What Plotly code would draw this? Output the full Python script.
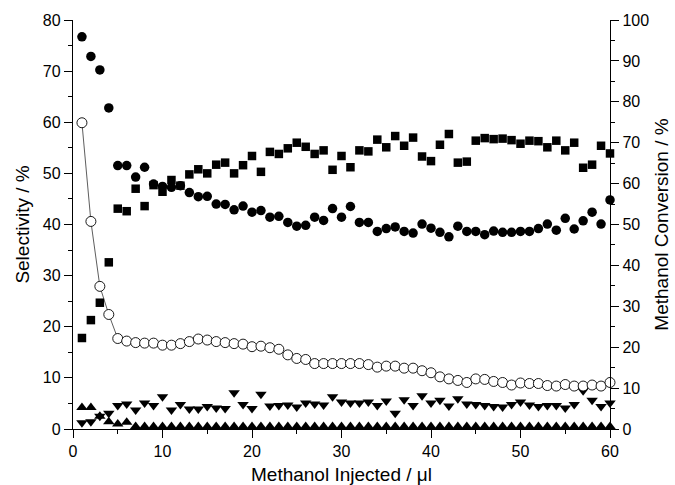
import plotly.graph_objects as go

x = list(range(1, 61))

# Methanol conversion (right axis, %), filled circles
conversion = [95.9, 91.1, 87.8, 78.5, 64.4, 64.4, 61.6, 64.0, 59.9, 59.3,
              59.1, 59.5, 57.8, 56.8, 56.9, 55.0, 54.9, 53.6, 54.5, 53.0,
              53.4, 51.8, 52.0, 50.5, 49.6, 49.8, 51.8, 51.0, 53.9, 51.8,
              54.4, 50.5, 50.5, 48.3, 49.0, 49.4, 48.3, 47.9, 50.1, 49.1,
              48.1, 47.0, 49.6, 48.3, 48.3, 47.5, 48.4, 48.1, 48.1, 48.3,
              48.3, 49.0, 50.1, 48.6, 51.5, 48.9, 50.9, 53.0, 50.1, 56.0]

# Selectivities (left axis, %)
sel_square = [17.8, 21.3, 24.7, 32.6, 43.1, 42.6, 47.0, 43.6, 47.7, 46.4,
              48.7, 47.6, 49.8, 50.8, 50.0, 51.7, 52.1, 50.0, 51.6, 53.4,
              50.3, 54.2, 53.8, 54.9, 56.0, 55.2, 53.8, 54.5, 50.7, 53.4,
              51.2, 54.5, 54.3, 56.6, 55.1, 57.3, 55.4, 57.0, 53.3, 52.4,
              55.6, 57.7, 52.1, 52.3, 56.4, 56.9, 56.7, 56.8, 56.5, 55.8,
              56.4, 56.3, 55.1, 56.4, 54.5, 56.0, 51.1, 51.7, 55.4, 53.9]

sel_open = [59.9, 40.6, 27.9, 22.4, 17.7, 17.2, 16.9, 16.8, 16.8, 16.4,
            16.4, 16.7, 17.1, 17.6, 17.4, 17.1, 16.9, 16.7, 16.6, 16.1,
            16.2, 15.9, 15.6, 14.5, 13.8, 13.6, 12.8, 12.8, 12.8, 12.8,
            12.8, 12.8, 12.6, 12.1, 12.3, 12.3, 11.9, 11.9, 11.4, 11.0,
            10.2, 9.8, 9.5, 9.1, 9.8, 9.7, 9.3, 9.1, 8.6, 9.0,
            8.9, 8.9, 8.5, 8.4, 8.7, 8.4, 8.4, 8.6, 8.4, 9.1]

sel_down = [1.2, 1.4, 2.5, 3.1, 4.6, 4.9, 3.7, 5.1, 4.6, 6.3,
            3.7, 4.8, 3.9, 3.9, 4.4, 4.1, 4.0, 7.1, 4.8, 4.0,
            6.8, 4.5, 4.6, 4.7, 4.3, 5.1, 4.9, 4.7, 6.3, 5.3,
            5.1, 5.1, 5.3, 4.6, 5.5, 3.1, 5.7, 4.6, 6.5, 5.1,
            5.6, 4.5, 5.9, 4.9, 4.8, 4.6, 4.4, 4.3, 4.8, 5.3,
            4.7, 4.4, 4.6, 4.6, 4.1, 4.8, 7.5, 5.6, 4.4, 5.1]

sel_up = [4.2, 4.2, 2.5, 1.4, 1.0, 1.3] + [0.5] * 54

fig = go.Figure()

fig.add_trace(go.Scatter(x=x, y=sel_up, mode="markers", cliponaxis=False,
                         marker=dict(symbol="triangle-up", size=10, color="black"),
                         showlegend=False))
fig.add_trace(go.Scatter(x=x, y=sel_down, mode="markers", cliponaxis=False,
                         marker=dict(symbol="triangle-down", size=10, color="black"),
                         showlegend=False))
fig.add_trace(go.Scatter(x=x, y=sel_open, mode="lines+markers", cliponaxis=False,
                         line=dict(color="#333333", width=0.8),
                         marker=dict(symbol="circle", size=10, color="white",
                                     line=dict(color="black", width=0.9)),
                         showlegend=False))
fig.add_trace(go.Scatter(x=x, y=sel_square, mode="markers", cliponaxis=False,
                         marker=dict(symbol="square", size=8.5, color="black"),
                         showlegend=False))
fig.add_trace(go.Scatter(x=x, y=conversion, mode="markers", cliponaxis=False,
                         yaxis="y2",
                         marker=dict(symbol="circle", size=9.5, color="black"),
                         showlegend=False))

font_family = "Liberation Sans, Arial, sans-serif"
minor_ticks = dict(dtick=5, ticklen=4, ticks="outside", tickcolor="black", tickwidth=1.4)

axis_common = dict(showline=True, linecolor="black", linewidth=1.4,
                   ticks="outside", ticklen=8, tickwidth=1.4, tickcolor="black",
                   showgrid=False, zeroline=False, automargin=False,
                   tickfont=dict(family=font_family, size=16, color="black"))

title_font = dict(family=font_family, size=19, color="black")

fig.update_layout(
    width=675, height=485,
    margin=dict(l=73, r=65, t=20, b=56),
    plot_bgcolor="white", paper_bgcolor="white",
    xaxis=dict(range=[0, 60], dtick=10, tick0=0, minor=minor_ticks,
               title=dict(text="Methanol Injected / μl", standoff=13, font=title_font),
               **axis_common),
    yaxis=dict(range=[0, 80], dtick=10, tick0=0, minor=minor_ticks,
               title=dict(text="Selectivity / %", standoff=8, font=title_font),
               **axis_common),
    yaxis2=dict(range=[0, 100], dtick=10, tick0=0, overlaying="y", side="right",
                minor=minor_ticks,
                title=dict(text="Methanol Conversion / %", standoff=6, font=title_font),
                **axis_common),
)

fig.write_html("out.html")
